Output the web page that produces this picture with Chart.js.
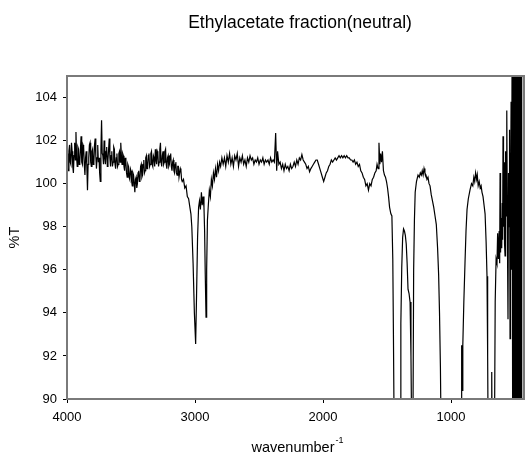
<!DOCTYPE html>
<html>
<head>
<meta charset="utf-8">
<title>Ethylacetate fraction(neutral)</title>
<script src="https://cdn.jsdelivr.net/npm/chart.js@4.4.0/dist/chart.umd.min.js"></script>
<style>
  html, body { margin: 0; padding: 0; background: #fff; }
  #irChart { display: block; }
</style>
</head>
<body>
<canvas id="irChart" width="525" height="454"></canvas>
<script>
// texts
const chartTitle = 'Ethylacetate fraction(neutral)';
const xLabel = 'wavenumber';
const xLabelSup = '-1';
const yLabel = '%T';

// ticks
const xTicks = [1000, 2000, 3000, 4000];
const yTicks = [90, 92, 94, 96, 98, 100, 102, 104];

// spectrum (wavenumber / %T)
// 4000 - 3100, noisy O-H region
const wnBroad = [
  4000,3995,3990,3985,3980,3975,3970,3965,3960,3955,
  3950,3945,3940,3935,3930,3925,3920,3915,3910,3905,
  3900,3895,3890,3885,3880,3875,3870,3865,3860,3855,
  3850,3845,3840,3835,3830,3825,3820,3815,3810,3805,
  3800,3795,3790,3785,3780,3775,3770,3765,3760,3755,
  3750,3745,3740,3735,3730,3725,3720,3715,3710,3705,
  3700,3695,3690,3685,3680,3675,3670,3665,3660,3655,
  3650,3645,3640,3635,3630,3625,3620,3615,3610,3605,
  3600,3595,3590,3585,3580,3575,3570,3565,3560,3555,
  3550,3545,3540,3535,3530,3525,3520,3515,3510,3505,
  3500,3495,3490,3485,3480,3475,3470,3465,3460,3455,
  3450,3445,3440,3435,3430,3425,3420,3415,3410,3405,
  3400,3395,3390,3385,3380,3375,3370,3365,3360,3355,
  3350,3345,3340,3335,3330,3325,3320,3315,3310,3305,
  3300,3295,3290,3285,3280,3275,3270,3265,3260,3255,
  3250,3245,3240,3235,3230,3225,3220,3215,3210,3205,
  3200,3195,3190,3185,3180,3175,3170,3165,3160,3155,
  3150,3145,3140,3135,3130,3125,3120,3115,3110,3105,
  3100
];
const tBroad = [
  101.4,100.7,100.6,101.5,101.8,101.0,100.9,101.9,101.5,100.8,
  100.5,101.3,101.9,101.1,102.4,101.2,100.8,101.7,101.6,100.9,
  101.0,101.6,102.2,101.0,100.9,101.8,101.7,100.9,100.4,101.2,
  101.5,100.8,99.7,100.9,101.2,101.8,101.9,101.0,100.8,101.5,
  101.6,100.9,101.0,101.8,102.1,101.3,100.7,101.2,101.8,101.0,
  101.2,100.5,100.1,101.6,102.95,101.4,101.3,100.9,102.0,101.2,
  100.9,101.5,101.7,100.8,101.1,101.6,102.1,101.2,100.8,101.3,
  101.5,100.8,101.0,101.7,101.6,100.9,100.7,101.2,101.4,100.8,
  100.9,101.4,101.5,101.0,101.9,101.3,100.9,101.4,101.3,100.8,
  100.6,101.2,101.0,100.5,100.3,100.9,100.8,100.3,100.2,100.7,
  100.6,100.1,99.9,100.5,100.4,100.0,99.6,100.2,100.3,99.8,
  100.0,100.5,100.6,100.1,100.2,100.8,100.9,100.3,100.4,100.9,
  101.1,100.5,100.6,101.2,101.3,100.7,100.8,101.3,101.4,100.8,
  100.9,101.4,101.5,100.9,100.8,101.3,101.2,100.8,101.6,101.1,
  100.9,101.5,101.4,100.8,101.0,101.6,101.9,101.0,100.8,101.3,
  101.5,100.9,101.0,101.5,101.6,100.9,100.7,101.2,101.3,100.8,
  100.9,101.3,101.4,100.8,100.6,101.0,101.1,100.6,100.5,100.9,
  101.0,100.5,100.4,100.8,100.8,100.3,100.3,100.7,100.6,100.2,
  100.1
];

// 3090 - 2790, C-H doublet
const wnCH = [
  3090,3080,3070,3060,3050,3040,3032,3025,3015,3005,
  2995,2988,2980,2972,2965,2958,2950,2944,2937,2930,
  2925,2920,2914,2909,2903,2896,2888,2880,2872,2864,
  2856,2848,2840,2832,2824,2816,2808,2800,2790
];
const tCH = [
  100.2,99.8,99.9,99.4,99.3,98.9,98.6,98.0,96.3,94.0,
  92.55,94.8,97.5,98.9,99.2,98.8,99.6,99.0,99.4,98.9,
  97.8,95.8,93.8,96.0,98.3,99.0,99.7,99.4,100.2,99.9,
  100.5,100.2,100.7,100.3,100.9,100.6,101.0,100.8,101.2
];

// 2780 - 2380, flat part
const wnFlat = [
  2780,2770,2760,2750,2740,2730,2720,2710,2700,2690,
  2680,2670,2660,2650,2640,2630,2620,2610,2600,2590,
  2580,2570,2560,2550,2540,2530,2520,2510,2500,2490,
  2480,2470,2460,2450,2440,2430,2420,2410,2400,2390,
  2380
];
const tFlat = [
  100.9,101.2,100.8,101.3,101.0,101.4,100.9,101.2,100.8,101.3,
  101.1,101.4,100.8,101.2,101.0,101.3,100.9,101.1,100.8,101.2,
  101.0,101.3,101.1,101.2,100.9,101.1,101.0,101.2,100.9,101.1,
  101.0,101.2,100.9,101.1,101.0,101.1,100.9,101.2,101.0,101.1,
  101.0
];

// 2370 - 1445
const wnMid = [
  2370,2362,2355,2345,2335,2325,2315,2305,2295,2285,
  2275,2265,2255,2245,2235,2225,2215,2205,2195,2185,
  2175,2165,2155,2145,2135,2125,2115,2105,2095,2085,
  2075,2065,2055,2045,2035,2025,2015,2005,1995,1985,
  1975,1965,1955,1945,1935,1925,1915,1905,1895,1885,
  1875,1865,1855,1845,1835,1825,1815,1805,1795,1785,
  1775,1765,1755,1745,1735,1725,1715,1705,1695,1685,
  1675,1665,1655,1645,1635,1625,1615,1605,1595,1585,
  1578,1570,1563,1556,1550,1543,1536,1528,1520,1512,
  1504,1496,1488,1480,1470,1462,1455,1450,1445
];
const tMid = [
  102.35,100.6,101.5,100.9,101.0,100.7,100.9,100.6,100.9,100.7,
  100.8,100.6,100.9,100.7,100.8,101.0,100.8,101.1,100.9,101.2,
  101.1,101.35,101.1,101.0,100.9,100.7,100.8,100.55,100.7,100.8,
  100.9,101.0,101.1,101.1,100.9,100.7,100.5,100.3,100.1,100.3,
  100.5,100.6,100.8,100.9,101.1,101.0,101.1,101.2,101.1,101.2,
  101.3,101.2,101.3,101.2,101.3,101.2,101.3,101.2,101.2,101.1,
  101.1,101.0,101.1,100.9,101.0,100.8,100.9,100.6,100.5,100.3,
  100.2,99.9,100.0,99.7,100.0,99.9,100.2,100.3,100.5,100.6,
  100.9,100.7,101.9,100.9,101.4,101.0,101.5,100.6,100.4,100.3,
  100.1,99.8,99.4,98.9,98.6,98.5,96.5,93.0,89.0
];

// 1440 - 1065, ester bands (below 90 is off the chart)
const wnEster = [
  1440,1420,1405,1398,1392,1385,1378,1371,1364,1357,
  1350,1343,1336,1328,1320,1313,1306,1302,1298,1292,
  1286,1280,1270,1258,1248,1240,1232,1225,1218,1211,
  1204,1196,1188,1180,1172,1164,1155,1145,1135,1125,
  1115,1105,1097,1090,1083,1077,1065
];
const tEster = [
  84,83,84,90,93.5,96.1,97.5,97.9,97.8,97.6,
  97.2,96.3,95.1,94.9,94.5,92.0,87.5,84,88,96.0,
  98.3,99.6,100.1,100.4,100.3,100.5,100.4,100.6,100.4,100.7,
  100.5,100.4,100.2,100.3,100.0,99.9,99.5,99.2,98.9,98.5,
  98.1,97.0,95.8,94.0,91.5,88,84
];

// 1050 - 660
const wnFinger = [
  1050,940,925,920,917,913,908,900,891,883,
  875,865,852,840,830,822,815,808,800,795,
  788,780,772,765,758,750,742,734,726,719,
  714,710,704,690,685,682,679,675,666,660
];
const tFinger = [
  84,84,85,90,92.5,90.4,92.5,94.5,96.3,97.8,
  98.8,99.3,99.7,100.0,99.9,100.3,100.1,100.5,100.2,100.4,
  99.9,100.1,99.8,99.9,99.6,99.4,99.0,98.6,97.3,95.7,
  92.0,88.0,84,84,88,91.25,88,84,84,89
];

// 655 - 445, noisy end of the detector range
const wnLow = [
  655,648,641,636,630,624,620,617,613,608,
  604,600,597,594,590,586,582,578,574,570,
  566,563,559,555,551,547,543,539,535,531,
  527,523,518,513,508,503,498,493,488,483,
  478,473,468,463,458,453,448,445
];
const tLow = [
  94.5,96.5,96.3,97.7,96.5,97.8,96.3,100.5,96.8,98.4,
  97.0,99.1,97.4,102.2,98.0,101.0,97.2,96.65,101.5,98.5,
  100.0,103.4,97.0,93.7,100.5,98.0,102.5,92.8,99.0,103.8,
  96.0,107,86,108,85,108,86,108,84,108,
  85,107,84,108,86,107,85,86
];

const wavenumber = [].concat(wnBroad, wnCH, wnFlat, wnMid, wnEster, wnFinger, wnLow);
const percentT = [].concat(tBroad, tCH, tFlat, tMid, tEster, tFinger, tLow);

const points = wavenumber.map((w, i) => ({ x: w, y: percentT[i] }));

const fontFamily = '"Liberation Sans", Arial, sans-serif';

// frame round the plot and the three labels
const frameAndLabels = {
  id: 'frameAndLabels',
  afterDraw(chart) {
    const ctx = chart.ctx;
    const a = chart.chartArea;
    ctx.save();
    ctx.strokeStyle = '#7a7a7a';
    ctx.lineWidth = 2;
    ctx.strokeRect(a.left, a.top, a.right - a.left, a.bottom - a.top);

    ctx.fillStyle = '#000';
    ctx.textBaseline = 'alphabetic';
    ctx.textAlign = 'center';
    ctx.font = '17.5px ' + fontFamily;
    ctx.fillText(chartTitle, 300, 28);

    // x label with superscript
    ctx.font = '14.5px ' + fontFamily;
    const w1 = ctx.measureText(xLabel).width;
    ctx.font = '9px ' + fontFamily;
    const w2 = ctx.measureText(xLabelSup).width;
    const startX = 297.5 - (w1 + w2 + 1) / 2;
    ctx.textAlign = 'left';
    ctx.font = '14.5px ' + fontFamily;
    ctx.fillText(xLabel, startX, 452);
    ctx.font = '9px ' + fontFamily;
    ctx.fillText(xLabelSup, startX + w1 + 1, 443);

    // y label
    ctx.translate(15, (a.top + a.bottom) / 2);
    ctx.rotate(-Math.PI / 2);
    ctx.textAlign = 'center';
    ctx.textBaseline = 'middle';
    ctx.font = '14.5px ' + fontFamily;
    ctx.fillText(yLabel, 0, 0);
    ctx.restore();
  }
};

new Chart(document.getElementById('irChart'), {
  type: 'line',
  data: {
    datasets: [{
      data: points,
      borderColor: '#000',
      borderWidth: 1.2,
      pointRadius: 0,
      tension: 0,
      fill: false
    }]
  },
  options: {
    responsive: false,
    animation: false,
    devicePixelRatio: 1,
    layout: { padding: { top: 76, right: 1, left: 0, bottom: 0 } },
    plugins: {
      legend: { display: false },
      title: { display: false },
      tooltip: { enabled: false }
    },
    scales: {
      x: {
        type: 'linear',
        reverse: true,
        min: 430,
        max: 4000,
        afterBuildTicks: (axis) => { axis.ticks = xTicks.map(v => ({ value: v })); },
        afterFit: (axis) => { axis.height = 55; },
        grid: { display: true, drawOnChartArea: false, drawTicks: true, tickLength: 4, color: '#000' },
        border: { display: false },
        ticks: {
          color: '#000',
          font: { family: fontFamily, size: 13 },
          padding: 7,
          maxRotation: 0,
          autoSkip: false,
          callback: (v) => String(v)
        }
      },
      y: {
        min: 90,
        max: 105,
        afterBuildTicks: (axis) => { axis.ticks = yTicks.map(v => ({ value: v })); },
        afterFit: (axis) => { axis.width = 67; },
        grid: { display: true, drawOnChartArea: false, drawTicks: true, tickLength: 4, color: '#000' },
        border: { display: false },
        ticks: {
          color: '#000',
          font: { family: fontFamily, size: 13 },
          padding: 6,
          callback: (v) => String(v)
        }
      }
    }
  },
  plugins: [frameAndLabels]
});
</script>
</body>
</html>
